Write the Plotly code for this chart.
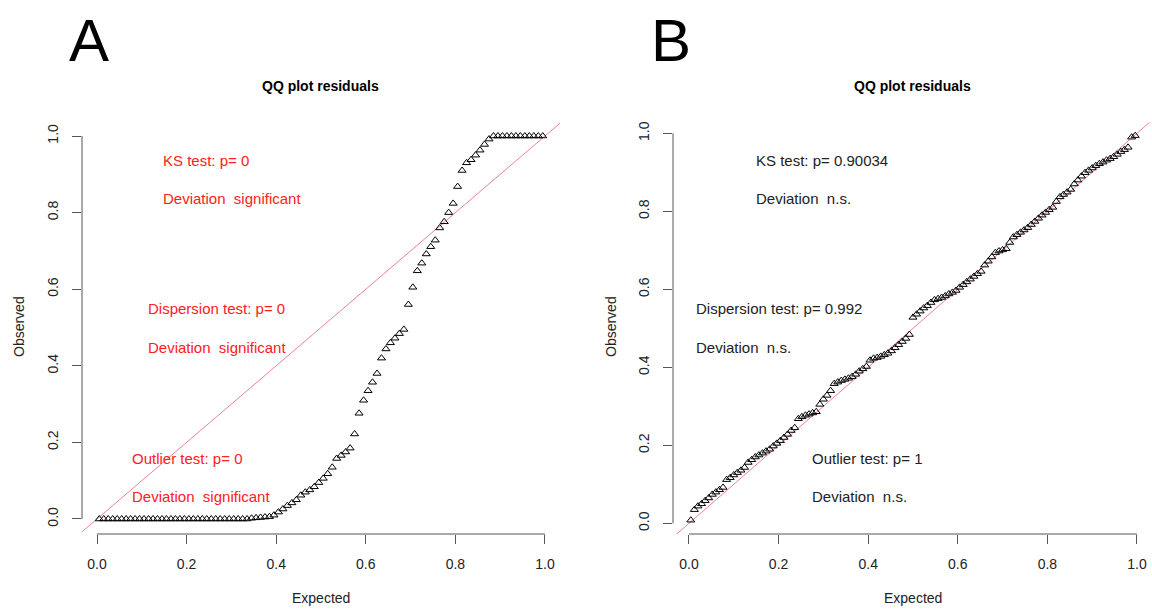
import plotly.graph_objects as go

# ---------------- data ----------------
A_expected = [
    0.005, 0.015, 0.025, 0.035, 0.045, 0.055, 0.065, 0.075, 0.085, 0.095,
    0.105, 0.115, 0.125, 0.135, 0.145, 0.155, 0.165, 0.175, 0.185, 0.195,
    0.205, 0.215, 0.225, 0.235, 0.245, 0.255, 0.265, 0.275, 0.285, 0.295,
    0.305, 0.315, 0.325, 0.335, 0.345, 0.355, 0.365, 0.375, 0.385, 0.395,
    0.405, 0.415, 0.425, 0.435, 0.445, 0.455, 0.465, 0.475, 0.485, 0.495,
    0.505, 0.515, 0.525, 0.535, 0.545, 0.555, 0.565, 0.575, 0.585, 0.595,
    0.605, 0.615, 0.625, 0.635, 0.645, 0.655, 0.665, 0.675, 0.685, 0.695,
    0.705, 0.715, 0.725, 0.735, 0.745, 0.755, 0.765, 0.775, 0.785, 0.795,
    0.805, 0.815, 0.825, 0.835, 0.845, 0.855, 0.865, 0.875, 0.885, 0.895,
    0.905, 0.915, 0.925, 0.935, 0.945, 0.955, 0.965, 0.975, 0.985, 0.995,
]
A_observed = [
    0.0, 0.0, 0.0, 0.0, 0.0, 0.0, 0.0, 0.0, 0.0, 0.0,
    0.0, 0.0, 0.0, 0.0, 0.0, 0.0, 0.0, 0.0, 0.0, 0.0,
    0.0, 0.0, 0.0, 0.0, 0.0, 0.0, 0.0, 0.0, 0.0, 0.0,
    0.0, 0.0, 0.0, 0.0, 0.002, 0.003, 0.004, 0.005, 0.006, 0.010,
    0.018, 0.026, 0.035, 0.042, 0.050, 0.062, 0.070, 0.076, 0.084, 0.095,
    0.106, 0.118, 0.135, 0.158, 0.166, 0.175, 0.185, 0.222, 0.276, 0.310,
    0.335, 0.357, 0.380, 0.420, 0.444, 0.460, 0.472, 0.484, 0.495, 0.560,
    0.605, 0.648, 0.668, 0.692, 0.711, 0.728, 0.760, 0.776, 0.800, 0.824,
    0.868, 0.910, 0.930, 0.938, 0.950, 0.963, 0.978, 0.992, 1.0, 1.0,
    1.0, 1.0, 1.0, 1.0, 1.0, 1.0, 1.0, 1.0, 1.0, 1.0,
]

B_expected = [
    0.004, 0.012, 0.020, 0.028, 0.036, 0.044, 0.052, 0.060, 0.068, 0.076,
    0.084, 0.092, 0.100, 0.108, 0.116, 0.124, 0.132, 0.140, 0.148, 0.156,
    0.164, 0.172, 0.180, 0.188, 0.196, 0.204, 0.212, 0.220, 0.228, 0.236,
    0.244, 0.252, 0.260, 0.268, 0.276, 0.284, 0.292, 0.300, 0.308, 0.316,
    0.324, 0.332, 0.340, 0.348, 0.356, 0.364, 0.372, 0.380, 0.388, 0.396,
    0.404, 0.412, 0.420, 0.428, 0.436, 0.444, 0.452, 0.460, 0.468, 0.476,
    0.484, 0.492, 0.500, 0.508, 0.516, 0.524, 0.532, 0.540, 0.548, 0.556,
    0.564, 0.572, 0.580, 0.588, 0.596, 0.604, 0.612, 0.620, 0.628, 0.636,
    0.644, 0.652, 0.660, 0.668, 0.676, 0.684, 0.692, 0.700, 0.708, 0.716,
    0.724, 0.732, 0.740, 0.748, 0.756, 0.764, 0.772, 0.780, 0.788, 0.796,
    0.804, 0.812, 0.820, 0.828, 0.836, 0.844, 0.852, 0.860, 0.868, 0.876,
    0.884, 0.892, 0.900, 0.908, 0.916, 0.924, 0.932, 0.940, 0.948, 0.956,
    0.964, 0.972, 0.980, 0.988, 0.996,
]
B_observed = [
    0.008, 0.035, 0.044, 0.050, 0.058, 0.065, 0.074, 0.080, 0.086, 0.092,
    0.112, 0.117, 0.124, 0.130, 0.136, 0.143, 0.156, 0.163, 0.170, 0.175,
    0.180, 0.185, 0.190, 0.198, 0.205, 0.212, 0.220, 0.228, 0.238, 0.245,
    0.268, 0.273, 0.277, 0.280, 0.283, 0.286, 0.305, 0.318, 0.328, 0.340,
    0.358, 0.362, 0.366, 0.369, 0.372, 0.376, 0.382, 0.390, 0.396, 0.402,
    0.418, 0.423, 0.425, 0.428, 0.432, 0.436, 0.442, 0.450, 0.458, 0.466,
    0.474, 0.484, 0.528, 0.536, 0.544, 0.552, 0.558, 0.566, 0.573, 0.576,
    0.579, 0.583, 0.588, 0.592, 0.597, 0.605, 0.612, 0.619, 0.626, 0.633,
    0.640, 0.646, 0.662, 0.672, 0.683, 0.694, 0.698, 0.701, 0.704, 0.720,
    0.734, 0.740, 0.746, 0.752, 0.758, 0.766, 0.774, 0.782, 0.790, 0.797,
    0.804, 0.810, 0.825, 0.837, 0.843, 0.849, 0.856, 0.870, 0.880, 0.890,
    0.899, 0.905, 0.911, 0.917, 0.922, 0.926, 0.931, 0.935, 0.940, 0.946,
    0.953, 0.958, 0.964, 0.990, 0.994,
]

tick_vals = [0.0, 0.2, 0.4, 0.6, 0.8, 1.0]
tick_text = ["0.0", "0.2", "0.4", "0.6", "0.8", "1.0"]

A_tests = ["KS test: p= 0", "Deviation  significant",
           "Dispersion test: p= 0", "Deviation  significant",
           "Outlier test: p= 0", "Deviation  significant"]
B_tests = ["KS test: p= 0.90034", "Deviation  n.s.",
           "Dispersion test: p= 0.992", "Deviation  n.s.",
           "Outlier test: p= 1", "Deviation  n.s."]

# ---------------- layout helpers ----------------
W, H = 1152, 609
FONT = "Liberation Sans, Arial, sans-serif"
AX_COL = "#555555"
TXT_COL = "#222222"
LINE_COL = "#EC8290"


def px_x(p):
    return p / W


def px_y(p):
    return 1 - p / H


fig = go.Figure()

marker_style = dict(symbol="triangle-up-open", size=7, color="black",
                    line=dict(width=1, color="black"))

# panel A
fig.add_trace(go.Scatter(x=[-0.1, 1.1], y=[-0.1, 1.1], mode="lines",
                         line=dict(color=LINE_COL, width=1),
                         xaxis="x", yaxis="y", showlegend=False, hoverinfo="skip"))
fig.add_trace(go.Scatter(x=A_expected, y=A_observed, mode="markers", marker=marker_style,
                         xaxis="x", yaxis="y", showlegend=False, hoverinfo="skip"))
# panel B
fig.add_trace(go.Scatter(x=[-0.1, 1.1], y=[-0.1, 1.1], mode="lines",
                         line=dict(color=LINE_COL, width=1),
                         xaxis="x2", yaxis="y2", showlegend=False, hoverinfo="skip"))
fig.add_trace(go.Scatter(x=B_expected, y=B_observed, mode="markers", marker=marker_style,
                         xaxis="x2", yaxis="y2", showlegend=False, hoverinfo="skip"))

common_x = dict(showgrid=False, zeroline=False, showline=False, ticks="outside",
                ticklen=9, tickwidth=1, tickcolor=AX_COL, tickvals=tick_vals,
                ticktext=tick_text, tickfont=dict(family=FONT, size=14, color=TXT_COL),
                ticklabelstandoff=8, fixedrange=True)
common_y = dict(common_x, tickangle=-90)

fig.update_layout(
    width=W, height=H, margin=dict(l=0, r=0, t=0, b=0),
    paper_bgcolor="white", plot_bgcolor="white",
    xaxis=dict(common_x, domain=[px_x(82), px_x(560)], range=[-0.0335, 1.0335], anchor="y"),
    yaxis=dict(common_y, domain=[px_y(534), px_y(121)], range=[-0.0392, 1.0392], anchor="x"),
    xaxis2=dict(common_x, domain=[px_x(673), 1.0], range=[-0.0357, 1.0335], anchor="y2"),
    yaxis2=dict(common_y, domain=[px_y(534), px_y(122.6)], range=[-0.0274, 1.0274], anchor="x2"),
)

# axis lines from first to last tick (R style)
for xa, ya in [("x", "y"), ("x2", "y2")]:
    fig.add_shape(type="line", xref=xa, yref=ya + " domain", x0=0, x1=1, y0=0, y1=0,
                  line=dict(color=AX_COL, width=1))
    fig.add_shape(type="line", xref=xa + " domain", yref=ya, x0=0, x1=0, y0=0, y1=1,
                  line=dict(color=AX_COL, width=1))

annotations = []


def add_text(text, x, y, size, color, xanchor="left", angle=0, bold=False):
    annotations.append(dict(text=("<b>%s</b>" % text) if bold else text,
                            x=px_x(x), y=px_y(y), xref="paper", yref="paper",
                            xanchor=xanchor, yanchor="middle", showarrow=False,
                            textangle=angle, font=dict(family=FONT, size=size, color=color)))


# panel letters
add_text("A", 89, 40, 60, "black", xanchor="center")
add_text("B", 671, 40, 60, "black", xanchor="center")
# titles
add_text("QQ plot residuals", 320, 86, 14, "black", xanchor="center", bold=True)
add_text("QQ plot residuals", 912, 86, 14, "black", xanchor="center", bold=True)
# axis titles
add_text("Expected", 321, 598, 14, TXT_COL, xanchor="center")
add_text("Expected", 913, 598, 14, TXT_COL, xanchor="center")
add_text("Observed", 19, 327, 14, TXT_COL, xanchor="center", angle=-90)
add_text("Observed", 611, 327, 14, TXT_COL, xanchor="center", angle=-90)

# test annotations
A_pos = [(161, 160), (161, 199), (146, 308), (146, 347), (130, 458), (130, 496)]
B_pos = [(754, 160), (754, 199), (694, 308), (694, 347), (810, 458), (810, 496)]
for t, (x, y) in zip(A_tests, A_pos):
    add_text(t, x, y, 15, "#FF2020")
for t, (x, y) in zip(B_tests, B_pos):
    add_text(t, x, y, 15, "#222222")

fig.update_layout(annotations=annotations)

fig.write_html("out.html")
